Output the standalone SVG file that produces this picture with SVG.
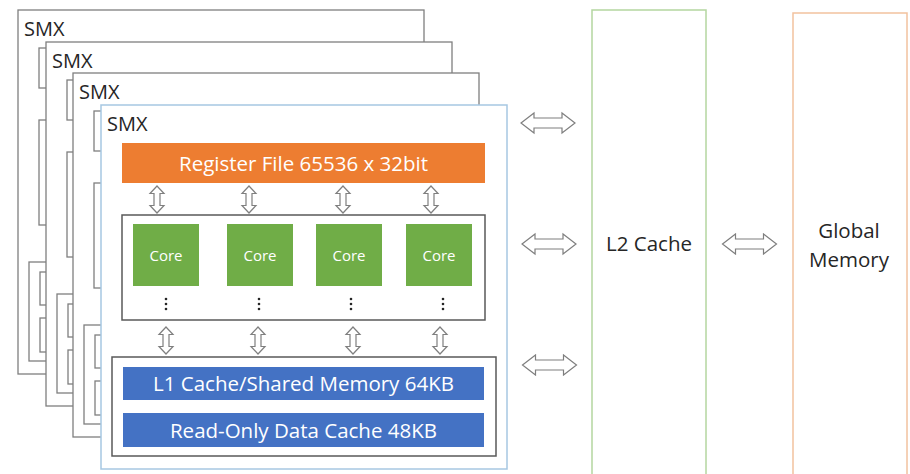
<svg xmlns="http://www.w3.org/2000/svg" xmlns:xlink="http://www.w3.org/1999/xlink" width="910" height="474" viewBox="0 0 910 474">
<style>
text{font-family:"Open Sans","Noto Sans","Liberation Sans",sans-serif}
.dark{fill:#262626}
.wt{fill:#ffffff}
.ol{fill:#ffffff;stroke:#7f7f7f;stroke-width:1.3}
.box{fill:#ffffff;stroke:#595959;stroke-width:1.5}
.arr{fill:#ffffff;stroke:#7f7f7f;stroke-width:1.2;stroke-linejoin:miter}
.dot{fill:#262626}
</style>
<defs>
<g id="smxBack">
<rect class="ol" x="0" y="0" width="406" height="364"/>
<text class="dark" x="6" y="26" font-size="20">SMX</text>
<rect class="ol" x="21" y="38" width="363" height="40"/>
<rect class="ol" x="21" y="110" width="363" height="105"/>
<rect class="ol" x="11" y="252" width="384" height="99"/>
<rect class="ol" x="22" y="262" width="361" height="33"/>
<rect class="ol" x="22" y="308" width="361" height="34"/>
</g>
<path id="va" class="arr" d="M0,-13.5 L7,-6 L3,-6 L3,6 L7,6 L0,13.5 L-7,6 L-3,6 L-3,-6 L-7,-6 Z"/>
<path id="ha" class="arr" d="M-27,0 L-14,-10 L-14,-5 L14,-5 L14,-10 L27,0 L14,10 L14,5 L-14,5 L-14,10 Z"/>
<g id="dots"><circle class="dot" cx="0" cy="0" r="1.3"/><circle class="dot" cx="0" cy="5" r="1.3"/><circle class="dot" cx="0" cy="10" r="1.3"/></g>
</defs>

<g id="smx1"><use xlink:href="#smxBack" transform="translate(18,10)"/></g>
<g id="smx2"><use xlink:href="#smxBack" transform="translate(46,42)"/></g>
<g id="smx3"><use xlink:href="#smxBack" transform="translate(73,73)"/></g>

<g id="smx4">
<rect x="101" y="105" width="406" height="364" fill="#ffffff" stroke="#a7c7e2" stroke-width="1.5"/>
<text class="dark" x="107" y="131" font-size="20">SMX</text>
</g>

<g id="register-file">
<rect x="122" y="143" width="363" height="40" fill="#ed7d31"/>
<text class="wt" x="303.5" y="170.5" font-size="20.5" text-anchor="middle">Register File 65536 x 32bit</text>
</g>

<g id="core-group">
<rect class="box" x="122" y="215" width="363" height="105"/>
</g>
<g id="core1"><rect x="133" y="224" width="66" height="62" fill="#70ad47"/><text class="wt" x="166" y="260.5" font-size="15" text-anchor="middle">Core</text></g>
<g id="core2"><rect x="227" y="224" width="66" height="62" fill="#70ad47"/><text class="wt" x="260" y="260.5" font-size="15" text-anchor="middle">Core</text></g>
<g id="core3"><rect x="316" y="224" width="66" height="62" fill="#70ad47"/><text class="wt" x="349" y="260.5" font-size="15" text-anchor="middle">Core</text></g>
<g id="core4"><rect x="406" y="224" width="66" height="62" fill="#70ad47"/><text class="wt" x="439" y="260.5" font-size="15" text-anchor="middle">Core</text></g>
<g id="ellipses">
<use xlink:href="#dots" transform="translate(166,299)"/>
<use xlink:href="#dots" transform="translate(259,299)"/>
<use xlink:href="#dots" transform="translate(351,299)"/>
<use xlink:href="#dots" transform="translate(443,299)"/>
</g>

<g id="cache-group">
<rect class="box" x="112" y="357" width="384" height="99"/>
</g>
<g id="l1-cache">
<rect x="123" y="367" width="361" height="33" fill="#4472c4"/>
<text class="wt" x="303.5" y="390.5" font-size="20.5" text-anchor="middle">L1 Cache/Shared Memory 64KB</text>
</g>
<g id="readonly-cache">
<rect x="123" y="413" width="361" height="34" fill="#4472c4"/>
<text class="wt" x="303.5" y="437.5" font-size="20.5" text-anchor="middle">Read-Only Data Cache 48KB</text>
</g>

<g id="l2-cache">
<rect x="592" y="10" width="114" height="480" fill="#ffffff" stroke="#b4d6a0" stroke-width="1.5"/>
<text class="dark" x="649" y="251" font-size="20.5" text-anchor="middle">L2 Cache</text>
</g>
<g id="global-memory">
<rect x="793" y="13" width="114" height="480" fill="#ffffff" stroke="#f2c29f" stroke-width="1.5"/>
<text class="dark" x="849" y="238" font-size="20.5" text-anchor="middle">Global</text>
<text class="dark" x="849" y="267" font-size="20.5" text-anchor="middle">Memory</text>
</g>

<g id="connectors">
<use xlink:href="#va" transform="translate(157,199.5)"/>
<use xlink:href="#va" transform="translate(249,199.5)"/>
<use xlink:href="#va" transform="translate(343,199.5)"/>
<use xlink:href="#va" transform="translate(431,199.5)"/>
<use xlink:href="#va" transform="translate(166,340.5)"/>
<use xlink:href="#va" transform="translate(258,340.5)"/>
<use xlink:href="#va" transform="translate(353,340.5)"/>
<use xlink:href="#va" transform="translate(440,340.5)"/>
<use xlink:href="#ha" transform="translate(548,123)"/>
<use xlink:href="#ha" transform="translate(549,244)"/>
<use xlink:href="#ha" transform="translate(549.5,365)"/>
<use xlink:href="#ha" transform="translate(749.5,244)"/>
</g>
</svg>
